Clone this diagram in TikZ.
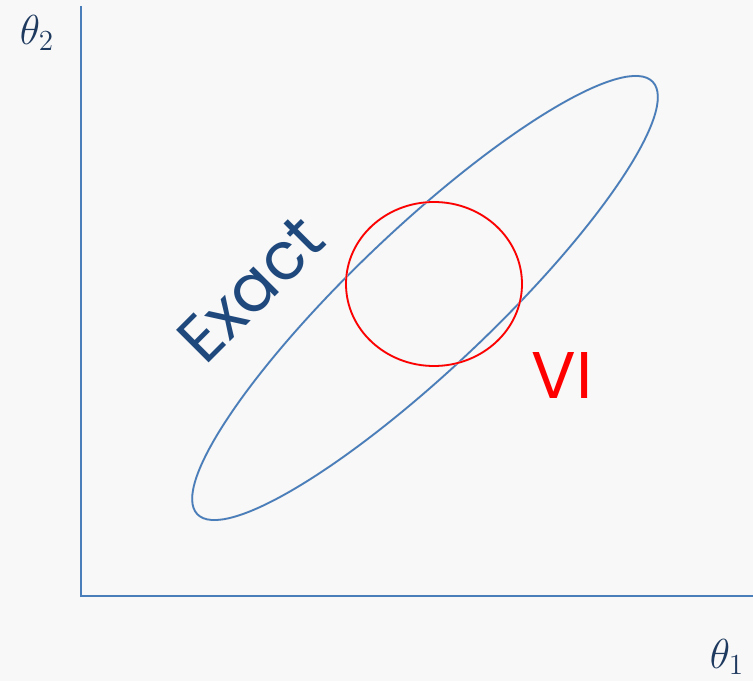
\documentclass[tikz,border=0pt]{standalone}
\usepackage{fontspec}
\usepackage{tikz}
\usetikzlibrary{positioning,calc}
\usepackage{xcolor}
\newfontfamily\labelfont{Poppins}
\definecolor{axisBlue}{HTML}{4a7ebb}
\definecolor{exactBlue}{HTML}{1f497d}
\definecolor{thetaInk}{HTML}{1f3a5f}
\definecolor{vRed}{HTML}{ff0000}
\definecolor{paperGrey}{HTML}{f8f8f8}
\definecolor{shadeGrey}{HTML}{e4e4e4}

\begin{document}
\begin{tikzpicture}[x=1pt,y=1pt,
  axisline/.style={draw=axisBlue,line width=2.4pt},
  contour/.style={line width=1.8pt},
  shade/.style={draw=shadeGrey,line width=2.2pt,shift={(1.5,-2.5)}},
  biglabel/.style={inner sep=0pt,font=\labelfont\fontsize{66}{66}\selectfont},
  thetalabel/.style={inner sep=0pt,text=thetaInk,font=\huge,scale=2.02}]
\fill[paperGrey] (0,0) rectangle (753,681);
\useasboundingbox (0,0) rectangle (753,681);
% axes
\coordinate (top) at (81,675);
\coordinate (origin) at (81,85);
\coordinate (right) at (753,85);
\draw[shade] (top) -- (origin) -- (right);
\draw[axisline] (top) -- (origin) -- (right);
% exact posterior and VI approximation
\coordinate (exactc) at (425,383);
\coordinate (vic) at (434,397);
\draw[shade] (exactc) ellipse[x radius=314,y radius=70,rotate=43.5];
\draw[contour,axisBlue] (exactc) ellipse[x radius=314,y radius=70,rotate=43.5];
\draw[shade] (vic) ellipse[x radius=88,y radius=82];
\draw[contour,vRed] (vic) ellipse[x radius=88,y radius=82];
% labels
\node[biglabel,text=exactBlue,rotate=45] (exact) at (251,392) {Exact};
\node[biglabel,text=vRed] (vi) at (562,305) {VI};
\node[thetalabel] (th2) at (37,648) {$\theta_2$};
\node[thetalabel] (th1) at (727,24) {$\theta_1$};
\end{tikzpicture}
\end{document}
